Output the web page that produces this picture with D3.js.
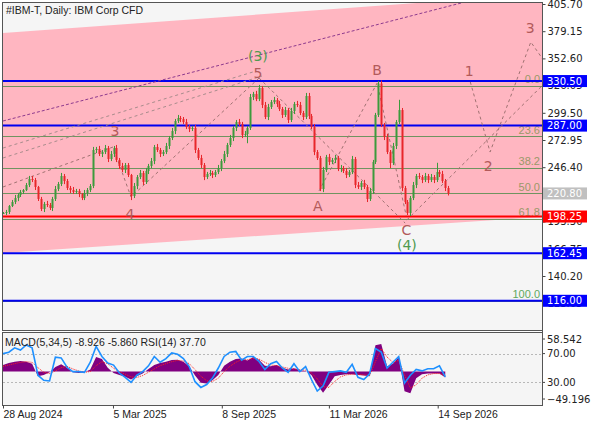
<!DOCTYPE html>
<html><head><meta charset="utf-8">
<script src="https://cdn.jsdelivr.net/npm/d3@7"></script>
<style>
body{margin:0;background:#fff;}
svg{display:block;}
text{font-family:"Liberation Sans",Arial,sans-serif;}
</style></head><body>
<svg id="c" width="596" height="425"></svg>
<script>
// ---------------- DATA ----------------
const title = "#IBM-T, Daily:  IBM Corp CFD";
const startDate = "2024-08-28";
const axisEndDate = "2026-09-14";
const barStepDays = 5;
const closes = [201.7,202.7,208.5,212.4,216.3,219.3,222.2,224.1,229.0,234.9,
233.9,227.1,215.4,205.6,210.5,209.5,206.6,215.4,225.1,230.0,
237.8,232.9,226.1,224.1,222.2,223.2,220.2,216.3,221.2,224.1,
228.0,263.2,264.2,259.3,261.2,265.1,254.4,259.3,265.1,253.4,
247.6,243.7,248.5,238.8,218.3,228.0,236.8,240.7,232.0,242.7,
247.6,252.4,266.1,263.2,259.3,261.2,267.1,274.9,281.7,291.5,
294.4,293.4,290.5,285.6,283.7,284.7,263.2,255.4,248.5,236.8,
239.8,240.7,238.8,241.7,245.6,252.4,259.3,268.1,274.9,284.7,
290.5,288.6,277.8,278.8,284.7,314.9,317.9,312.9,323.7,307.1,
295.4,305.2,310.0,312.0,308.1,303.2,297.4,302.2,292.5,301.3,
308.1,307.1,299.3,295.4,315.9,296.4,285.6,261.2,255.4,225.1,
243.7,256.4,251.5,253.4,255.4,244.6,245.6,242.7,238.8,241.7,
254.4,229.0,227.1,231.0,227.1,215.4,223.2,251.5,297.4,328.0,
287.6,275.9,261.2,250.5,267.1,290.5,302.2,226.1,212.4,201.7,
216.3,229.0,237.8,236.8,233.9,237.8,233.9,236.8,233.9,241.7,
239.8,232.9,226.1,220.8];
// extent of each bar's high above / low below its body
const wickUp = [1,2,1,2,3,2,2,1,2,3, 3,2,1,2,2,3,2,2,3,2,
3,2,2,2,3,2,2,1,3,2, 2,3,2,3,2,3,2,3,2,3,
2,3,2,2,1,3,2,3,2,3, 2,3,2,3,2,2,3,2,3,2,
3,2,2,3,2,2,3,2,3,2, 2,3,2,2,3,2,3,2,3,2,
2,3,2,3,2,3,2,3,3,2, 3,3,2,3,2,3,2,3,2,3,
2,3,3,2,3,3,2,3,2,2, 3,2,3,2,3,2,3,2,3,2,
3,2,3,2,3,2,3,2,2,2.5, 3,2,3,2,3,2,10,2,2,2,
2,3,2,3,2,3,2,3,2,9, 2,3,2,2];
const wickDown = [1,2,2,1,2,3,2,2,1,2, 2,3,2,2,3,2,2,3,2,2,
2,3,2,3,2,2,3,2,2,3, 2,2,3,2,3,2,3,2,3,2,
3,2,3,2,4,2,3,2,3,2, 3,2,3,2,3,2,2,3,2,3,
2,3,2,2,3,2,3,2,3,3, 2,2,3,2,2,3,2,3,2,3,
3,2,3,2,9,2,3,2,2,3, 2,3,2,2,3,2,3,2,3,2,
3,2,2,3,2,3,2,3,2,2, 3,2,3,2,3,2,3,2,3,2,
2,3,2,3,2,3,2,3,2,2, 2,3,2,5,2,3,2,3,2,2,
3,2,3,2,3,2,3,2,3,2, 3,2,3,2];

const indStepDays = 10;
const macdHist = [10,13,15,16,15,12,-7,-5,-1,7,
11,6,-1,-2,-1,3,22,19,6,-2,
-5,-8,-12,-7,-3,4,10,13,15,17.6,
18,15,8,-6,-17,-18,-13,-5,9,15,
19,20,17,22,18,9,8,10,6,3,
5,2,1,-5,-20,-32,-20,-7,-5,-4,
-4,-5,-6,-7,40,42,8,12,22,-30,
-33,-10,-4,-3,-3,-3,-8.926];
const macdSignal = [8,10,12,14,15,14,6,-1,-3,1,
6,8,4,1,-1,0,9,15,12,5,
0,-4,-8,-9,-6,-1,4,9,12,15,
17,16,12,3,-7,-14,-15,-10,0,8,
14,18,18,20,19,14,10,9,7,5,
4,3,2,-2,-11,-23,-24,-15,-8,-5,
-4,-4,-5,-6,15,35,22,14,17,-5,
-25,-20,-10,-5,-3,-3,-5.86];
const rsi = [70,72,78,75,82,78,40,33,32,65,
64,51,45,45,44,58,80,66,57,54,
43,37,30,40,45,53,66,58,63,71,
69,63,52,31,23,27,36,50,66,72,
73,61,66,66,59,48,56,59,50,44,
56,45,52,34,18,25,44,45,46,44,
55,37,34,42,77,72,50,58,66,29,
40,48,46,49,49,53,37.7];
const indicatorLabel = "MACD(5,34,5) -8.926 -5.860 RSI(14) 37.70";

const priceTicks = [405.70,379.15,352.60,326.05,299.50,272.95,246.40,219.85,193.30,166.75,140.20,113.65];
const dateTicks = ["2024-08-28","2025-03-05","2025-09-08","2026-03-11","2026-09-14"];
const macdRange = [-49.196, 58.542];
const rsiLevels = [70, 30];

const blueLevels = [330.50, 287.00, 162.45, 116.00];
const redLevel = 198.25;
const lastPrice = 220.80;
const fiboHigh = 326.0, fiboLow = 116.0;
const fiboLevels = [0.0, 23.6, 38.2, 50.0, 61.8, 100.0];

// lines given as [days from start, price]
const channelTop = [[0,377.4],[930,415.7]];
const channelBottom = [[0,162.6],[930,197.95]];
const purpleTrend = [[0,291.5],[810,410.0]];
const trendA = [[0,265.1],[435,340.3]];
const trendB = [[0,255.4],[445,335.4]];
const waveImpulse = [[0,227.1],[189,266.1],[220,217.3],[440,333.5]];
const waveFiveToC = [[440,333.5],[691,191.9]];
const waveABC = [[543,223.2],[643,328.6],[693,198.8]];
const waveFromC = [[694,194.9],[926,325.7]];
const waveFuture = [[803,329.6],[837,261.2],[907,368.6],[931,349.1]];
const waveLabels = [
  {t:"3", d:192.5, p:281.7}, {t:"4", d:218, p:200.7}, {t:"5", d:438, p:338.3},
  {t:"A", d:541, p:208.5}, {t:"B", d:643, p:341.3}, {t:"C", d:693, p:185.1},
  {t:"1", d:801, p:340.3}, {t:"2", d:834, p:247.6}, {t:"3", d:906, p:382.3}];
const waveLabelsMajor = [{t:"(3)", d:438, p:355.0}, {t:"(4)", d:694, p:170.5}];

// ---------------- CHART ----------------
const svg = d3.select("#c");
const L=3, R=542, MT=3, MB=330, ST=333, SB=405;
const parse = d3.utcParse("%Y-%m-%d");
const t0 = parse(startDate);
const dd = d => new Date(t0.getTime() + d*86400000);
const x = d3.scaleUtc().domain([t0, parse(axisEndDate)]).range([3, 437.7]);
const y = d3.scaleLinear().domain([113.65, 405.70]).range([303.2, 4]);
const ym = d3.scaleLinear().domain(macdRange).range([SB-1, ST]);
const yr = d3.scaleLinear().domain([0,100]).range([SB-1, ST-1]);

svg.append("rect").attr("width",596).attr("height",425).attr("fill","#fff");
svg.append("rect").attr("x",L).attr("y",MT).attr("width",R-L).attr("height",MB-MT).attr("fill","#f5f5f5");
svg.append("rect").attr("x",L).attr("y",ST).attr("width",R-L).attr("height",SB-ST).attr("fill","#f5f5f5");

const defs = svg.append("defs");
defs.append("clipPath").attr("id","cm").append("rect").attr("x",L).attr("y",MT).attr("width",R-L).attr("height",MB-MT);
defs.append("clipPath").attr("id","cs").append("rect").attr("x",L).attr("y",ST).attr("width",R-L).attr("height",SB-ST);

const main = svg.append("g").attr("clip-path","url(#cm)");
const line = d3.line().x(d=>x(dd(d[0]))).y(d=>y(d[1]));

// channel
main.append("path").attr("d", line(channelTop.concat(channelBottom.slice().reverse()))+"Z")
  .attr("fill","#ffb6c1");

// fibo lines
const fiboPrice = l => fiboHigh - (fiboHigh-fiboLow)*l/100;
main.selectAll(".fib").data(fiboLevels).join("line")
  .attr("x1",L).attr("x2",R).attr("y1",d=>Math.round(y(fiboPrice(d)))+0.5).attr("y2",d=>Math.round(y(fiboPrice(d)))+0.5)
  .attr("stroke","#6f9460").attr("stroke-width",1);
main.selectAll(".fibt").data(fiboLevels).join("text")
  .attr("x",R-2).attr("y",d=>y(fiboPrice(d))-2.5).attr("text-anchor","end")
  .attr("font-size","11px").attr("fill",d=>d===100?"#5fa85f":"#9a9868").text(d=>d.toFixed(1));

// horizontal levels
main.selectAll(".bl").data(blueLevels).join("line")
  .attr("x1",L).attr("x2",R).attr("y1",d=>y(d)).attr("y2",d=>y(d))
  .attr("stroke","#0000f0").attr("stroke-width",2);
main.append("line").attr("x1",L).attr("x2",R).attr("y1",y(redLevel)).attr("y2",y(redLevel))
  .attr("stroke","#ff0000").attr("stroke-width",2);

// dashed trend / wave lines
main.append("path").attr("d",line(purpleTrend)).attr("fill","none").attr("stroke","#8e3a8e").attr("stroke-dasharray","3,2");
[trendA,trendB].forEach(tl=>main.append("path").attr("d",line(tl)).attr("fill","none").attr("stroke","#a88c8c").attr("stroke-dasharray","3,3"));
[waveImpulse,waveFiveToC,waveABC,waveFromC,waveFuture].forEach(w=>main.append("path").attr("d",line(w)).attr("fill","none").attr("stroke","#a07272").attr("stroke-dasharray","3,3"));

// candles (open = previous close)
const bars = closes.map((c,i)=>{
  const o = i? closes[i-1] : c;
  return {date:dd(i*barStepDays), o, c, h:Math.max(o,c)+wickUp[i], l:Math.min(o,c)-wickDown[i]};
});
const col = d => d.c>=d.o?"#3c9a3c":"#e8262a";
main.selectAll(".wk").data(bars).join("line")
  .attr("x1",d=>Math.round(x(d.date))+0.5).attr("x2",d=>Math.round(x(d.date))+0.5)
  .attr("y1",d=>y(d.h)).attr("y2",d=>y(d.l)).attr("stroke",col).attr("stroke-width",1);
main.selectAll(".cd").data(bars).join("rect")
  .attr("x",d=>Math.round(x(d.date))-0.5).attr("width",2)
  .attr("y",d=>Math.min(y(d.o),y(d.c))).attr("height",d=>Math.max(1,Math.abs(y(d.o)-y(d.c))))
  .attr("fill",col);

// wave labels
main.selectAll(".wl").data(waveLabels).join("text")
  .attr("x",d=>x(dd(d.d))).attr("y",d=>y(d.p)).attr("text-anchor","middle").attr("dominant-baseline","central")
  .attr("font-size","14px").attr("fill","#b35a5a").style("font-family","DejaVu Sans").text(d=>d.t);
main.selectAll(".wm").data(waveLabelsMajor).join("text")
  .attr("x",d=>x(dd(d.d))).attr("y",d=>y(d.p)).attr("text-anchor","middle").attr("dominant-baseline","central")
  .attr("font-size","14px").attr("fill","#4f9a4f").style("font-family","DejaVu Sans").text(d=>d.t);

// title
svg.append("text").attr("x",6).attr("y",14).attr("font-size","10.5px").attr("fill","#222").text(title);

// ---------- subpanel ----------
const sub = svg.append("g").attr("clip-path","url(#cs)");
const ind = macdHist.map((m,j)=>({date:dd(j*indStepDays), m, s:macdSignal[j], r:rsi[j]}));
sub.selectAll(".lv").data(rsiLevels).join("line")
  .attr("x1",L).attr("x2",R).attr("y1",d=>Math.round(yr(d))+0.5).attr("y2",d=>Math.round(yr(d))+0.5)
  .attr("stroke","#b8b8b8").attr("stroke-dasharray","2,2");
sub.append("path").datum(ind).attr("fill","#800080")
  .attr("d",d3.area().x(d=>x(d.date)).y0(ym(0)).y1(d=>ym(d.m)));
sub.append("path").datum(ind).attr("fill","none").attr("stroke","#ff2020").attr("stroke-dasharray","1,1")
  .attr("d",d3.line().x(d=>x(d.date)).y(d=>ym(d.s)));
sub.append("path").datum(ind).attr("fill","none").attr("stroke","#1e90ff").attr("stroke-width",1.6)
  .attr("d",d3.line().x(d=>x(d.date)).y(d=>yr(d.r)));
svg.append("text").attr("x",5).attr("y",346).attr("font-size","10.5px").attr("fill","#222").text(indicatorLabel);

// frames
svg.append("rect").attr("x",L-0.5).attr("y",MT-0.5).attr("width",R-L+1).attr("height",MB-MT+1).attr("fill","none").attr("stroke","#555");
svg.append("rect").attr("x",L-0.5).attr("y",ST-0.5).attr("width",R-L+1).attr("height",SB-ST+1).attr("fill","none").attr("stroke","#555");

// price axis
const pa = svg.append("g").attr("transform",`translate(${R+0.5},0)`)
  .call(d3.axisRight(y).tickValues(priceTicks).tickFormat(d3.format(".2f")).tickSize(3).tickPadding(2));
pa.select(".domain").remove();
pa.selectAll("text").style("font-family","DejaVu Sans").attr("font-size","10px").attr("fill","#222");
pa.selectAll("line").attr("stroke","#444");

// price boxes
const boxes = blueLevels.map(v=>({v,fill:"#0000ff"})).concat([{v:lastPrice,fill:"#c0c0c0"},{v:redLevel,fill:"#ff0000"}]);
const bg = svg.append("g");
boxes.forEach(b=>{
  bg.append("rect").attr("x",R+1).attr("y",y(b.v)-6).attr("width",44).attr("height",12).attr("fill",b.fill);
  bg.append("text").attr("x",R+5).attr("y",y(b.v)).attr("dominant-baseline","central").style("font-family","DejaVu Sans")
    .attr("font-size","10px").attr("fill","#fff").text(d3.format(".2f")(b.v));
});

// subpanel axis
const subTicks = [
  {v:ym(macdRange[1])+6, t:d3.format(".3f")(macdRange[1])},
  {v:yr(rsiLevels[0]), t:d3.format(".2f")(rsiLevels[0])},
  {v:yr(rsiLevels[1]), t:d3.format(".2f")(rsiLevels[1])},
  {v:ym(macdRange[0])-5, t:d3.format(".3f")(macdRange[0])}];
const sa = svg.append("g");
subTicks.forEach(s=>{
  sa.append("line").attr("x1",R).attr("x2",R+3).attr("y1",s.v).attr("y2",s.v).attr("stroke","#444");
  sa.append("text").attr("x",R+5).attr("y",s.v).attr("dominant-baseline","central").style("font-family","DejaVu Sans")
    .attr("font-size","10px").attr("fill","#222").text(s.t);
});
svg.append("line").attr("x1",R+0.5).attr("x2",R+0.5).attr("y1",MT-1).attr("y2",SB+1).attr("stroke","#555");

// time axis
const ta = svg.append("g").attr("transform",`translate(0,${SB+0.5})`)
  .call(d3.axisBottom(x).tickValues(dateTicks.map(parse)).tickFormat(d3.utcFormat("%-d %b %Y")).tickSize(3).tickPadding(2));
ta.select(".domain").remove();
ta.selectAll("text").attr("text-anchor","start").attr("font-size","10.5px").attr("fill","#222").style("font-family","Liberation Sans");
ta.selectAll("line").attr("stroke","#444");
</script>
</body></html>
